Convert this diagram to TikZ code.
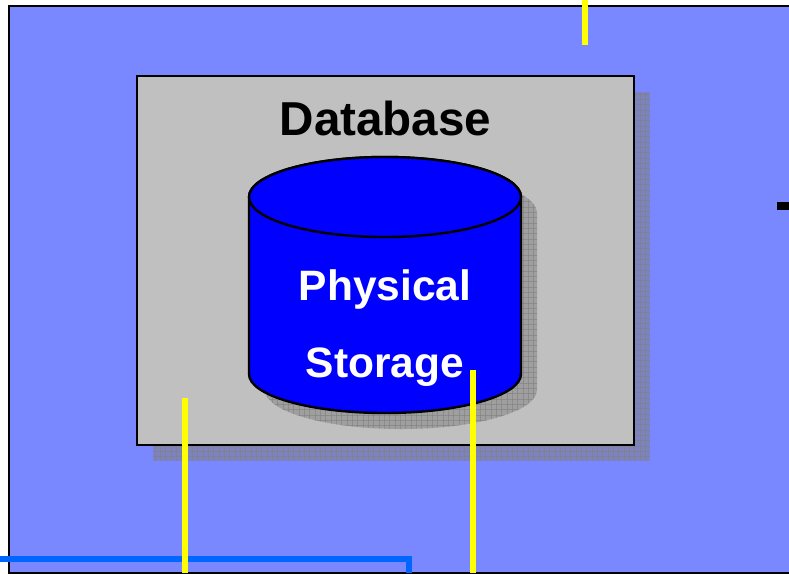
\documentclass[tikz,border=0pt]{standalone}
\usepackage{fontspec}
\setmainfont{Liberation Sans}
\usetikzlibrary{positioning}
\definecolor{bgblue}{RGB}{122,136,255}
\definecolor{boxgray}{RGB}{192,192,192}
\definecolor{wireblue}{RGB}{0,102,255}
\definecolor{wireyellow}{RGB}{255,255,0}
\tikzset{panel/.style={draw=black,line width=2pt,fill=bgblue}}
\tikzset{box/.style={draw=black,line width=2pt,fill=boxgray}}
\tikzset{drum/.style={draw=black,line width=2.4pt,fill=blue}}
\tikzset{shade/.style={fill=gray,fill opacity=0.5}}
\tikzset{mesh/.style={draw=gray,line width=0.5pt,opacity=0.6}}
\tikzset{yellowwire/.style={draw=wireyellow,line width=6pt}}
\tikzset{bluewire/.style={draw=wireblue,line width=6pt,line join=miter}}
\tikzset{title/.style={font=\fontsize{47.6}{50}\selectfont\bfseries}}
\tikzset{label/.style={font=\fontsize{42.5}{45}\selectfont\bfseries,text=white}}

\begin{document}
\begin{tikzpicture}[x=1pt,y=-1pt]
        \useasboundingbox (0,0) rectangle (789,573);
        \clip (0,0) rectangle (789,573);
        \path[panel] (9,6) rectangle (800,572.5);
        % shadows
        \path[shade] (153,92) rectangle (650,461);
        \begin{scope}
            \clip (153,92) rectangle (650,461);
            \foreach \xpos in {155,160.33,...,650} \draw[mesh] (\xpos,92) -- (\xpos,461);
            \foreach \ypos in {94,99.33,...,461} \draw[mesh] (153,\ypos) -- (650,\ypos);
        \end{scope}
        \path[box] (137,76) rectangle (634,445);
        \path[shade] (265,213) -- (265,390) arc[start angle=180,end angle=360,x radius=136,y radius=-39] -- (537,213) arc[start angle=0,end angle=180,x radius=136,y radius=-40] -- cycle;
        \begin{scope}
            \clip (265,213) -- (265,390) arc[start angle=180,end angle=360,x radius=136,y radius=-39] -- (537,213) arc[start angle=0,end angle=180,x radius=136,y radius=-40] -- cycle;
            \foreach \xpos in {267,272.33,...,537} \draw[mesh] (\xpos,173) -- (\xpos,430);
            \foreach \ypos in {175,180.33,...,430} \draw[mesh] (265,\ypos) -- (537,\ypos);
        \end{scope}
        % cylinder
        \path[drum] (249,197) -- (249,374) arc[start angle=180,end angle=360,x radius=136,y radius=-39] -- (521,197) arc[start angle=0,end angle=180,x radius=136,y radius=-40] -- cycle;
        \path[drum] (385,197) ellipse[x radius=136,y radius=40];
        \node[title] (database) at (385.5,118) {Database};
        \node[label] (physical) at (385,290) {Physical};
        \node[label,below=31pt of physical] (storage) {Storage};
        % wires
        \coordinate (t1) at (585,0);
        \coordinate (t2) at (585,45);
        \coordinate (l1) at (185,398);
        \coordinate (l2) at (185,573);
        \coordinate (r1) at (473,370);
        \coordinate (r2) at (473,573);
        \coordinate (b1) at (0,559);
        \coordinate (b2) at (409,559);
        \coordinate (b3) at (409,573);
        \coordinate (e1) at (777,206);
        \coordinate (e2) at (789,206);
        \path[bluewire] (b1) -- (b2) -- (b3);
        \path[yellowwire] (t1) -- (t2);
        \path[yellowwire] (l1) -- (l2);
        \path[yellowwire] (r1) -- (r2);
        \draw[line width=8.5pt] (e1) -- (e2);
    \end{tikzpicture}
\end{document}
